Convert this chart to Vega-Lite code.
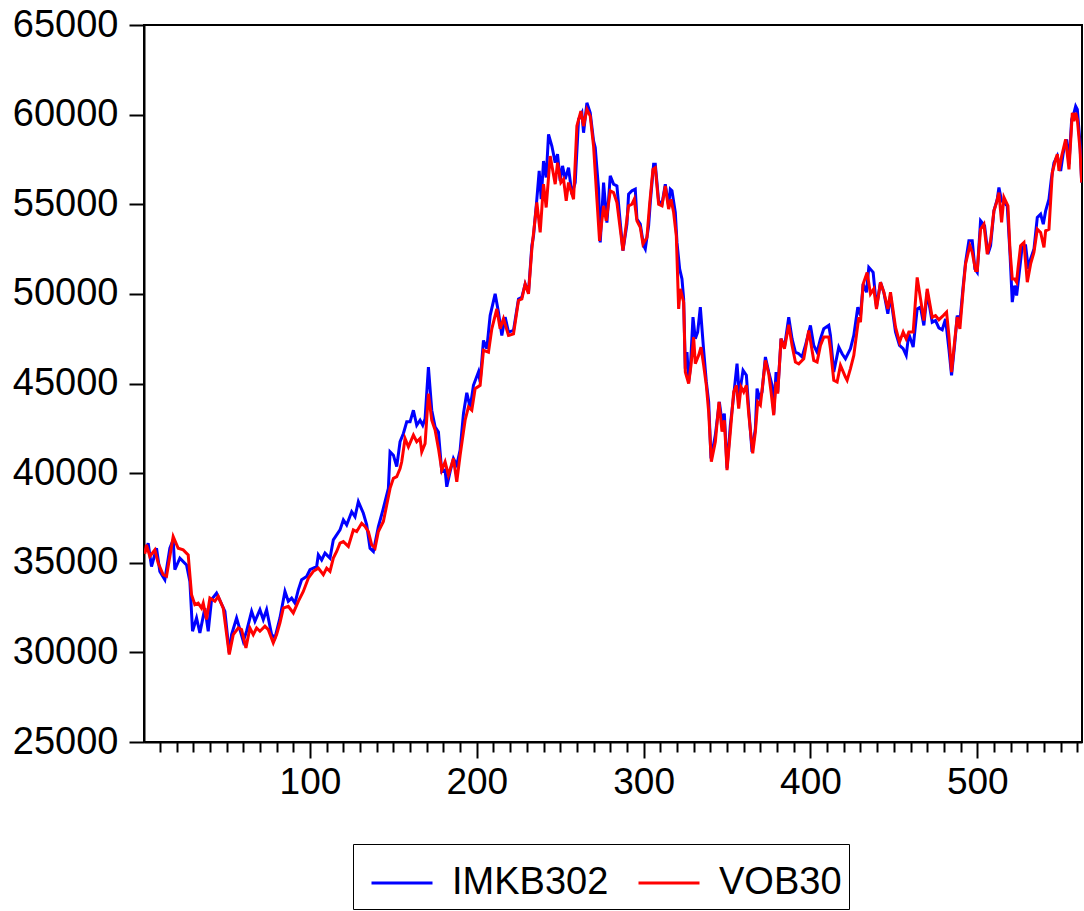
{
  "$schema": "https://vega.github.io/schema/vega-lite/v6.json",
  "width": 938,
  "height": 717,
  "autosize": {"type": "none"},
  "padding": {"left": 144, "top": 25, "right": 2, "bottom": 169},
  "background": "white",
  "config": {
    "view": {"stroke": "black", "strokeWidth": 2},
    "font": "Liberation Sans"
  },
  "datasets": {
    "imkb": [
      {"t":1,"v":35600},{"t":2,"v":35810},{"t":3,"v":36090},{"t":5,"v":34790},{"t":8,"v":35810},{"t":10,"v":34510},{"t":13,"v":34050},{"t":16,"v":35810},{"t":18,"v":36280},{"t":19,"v":34610},{"t":22,"v":35260},{"t":26,"v":34880},{"t":28,"v":33960},{"t":29.6,"v":31180},{"t":32,"v":31920},{"t":34,"v":31080},{"t":37,"v":32470},{"t":39,"v":31180},{"t":41,"v":32940},{"t":44,"v":33310},{"t":49,"v":32290},{"t":51.6,"v":29970},{"t":53,"v":30990},{"t":56,"v":31920},{"t":60,"v":30620},{"t":62,"v":31180},{"t":65,"v":32290},{"t":67,"v":31730},{"t":70,"v":32380},{"t":72,"v":31830},{"t":74,"v":32380},{"t":77,"v":30990},{"t":79,"v":30810},{"t":82,"v":31920},{"t":85,"v":33400},{"t":87,"v":32850},{"t":89,"v":33030},{"t":91,"v":32750},{"t":93,"v":33490},{"t":95,"v":34050},{"t":98,"v":34240},{"t":100,"v":34610},{"t":104,"v":34790},{"t":105,"v":35440},{"t":107,"v":35160},{"t":109,"v":35540},{"t":112,"v":35260},{"t":114,"v":36280},{"t":118,"v":36830},{"t":120,"v":37390},{"t":122,"v":37110},{"t":125,"v":37850},{"t":127,"v":37570},{"t":129,"v":38410},{"t":132,"v":37760},{"t":134,"v":37110},{"t":136,"v":35810},{"t":138,"v":35630},{"t":141,"v":37020},{"t":144,"v":38040},{"t":147,"v":39150},{"t":148,"v":41190},{"t":150,"v":41000},{"t":152,"v":40360},{"t":154,"v":41750},{"t":156,"v":42210},{"t":158,"v":42860},{"t":160,"v":42860},{"t":162,"v":43510},{"t":164,"v":42670},{"t":166,"v":42950},{"t":167.6,"v":42670},{"t":169,"v":43040},{"t":171,"v":45920},{"t":173,"v":43510},{"t":175,"v":42580},{"t":177,"v":42300},{"t":179,"v":40080},{"t":181,"v":40170},{"t":182,"v":39240},{"t":184,"v":40080},{"t":186,"v":40820},{"t":188,"v":40450},{"t":190,"v":41280},{"t":192,"v":43320},{"t":194,"v":44480},{"t":196,"v":43650},{"t":198,"v":44900},{"t":201,"v":45640},{"t":202,"v":45090},{"t":204,"v":47400},{"t":206,"v":46940},{"t":208,"v":48790},{"t":211,"v":50000},{"t":213,"v":48980},{"t":215,"v":47680},{"t":217,"v":48700},{"t":219,"v":47870},{"t":222,"v":47960},{"t":225,"v":49720},{"t":227,"v":49810},{"t":229,"v":50550},{"t":231,"v":50090},{"t":233,"v":52690},{"t":234,"v":53240},{"t":236,"v":55280},{"t":237.4,"v":56860},{"t":238.6,"v":55280},{"t":240,"v":57410},{"t":241.6,"v":56490},{"t":243,"v":58900},{"t":245,"v":58250},{"t":247,"v":57320},{"t":248.4,"v":57790},{"t":250,"v":56300},{"t":251.4,"v":57140},{"t":253,"v":56400},{"t":255,"v":57040},{"t":257,"v":55560},{"t":259,"v":56210},{"t":261,"v":59730},{"t":263,"v":60100},{"t":264,"v":58990},{"t":266,"v":60660},{"t":268,"v":60100},{"t":270,"v":58530},{"t":271,"v":58160},{"t":273,"v":55840},{"t":274,"v":52870},{"t":276,"v":56210},{"t":278,"v":53980},{"t":280,"v":56580},{"t":282,"v":56120},{"t":284,"v":56020},{"t":286,"v":53980},{"t":287.6,"v":52410},{"t":290,"v":53890},{"t":291,"v":55560},{"t":293,"v":55750},{"t":295,"v":55840},{"t":296,"v":54170},{"t":298,"v":53890},{"t":300,"v":52690},{"t":301,"v":52500},{"t":303,"v":53800},{"t":304,"v":55100},{"t":306,"v":57230},{"t":307,"v":57230},{"t":309,"v":55190},{"t":311,"v":55000},{"t":313,"v":56120},{"t":315,"v":54910},{"t":316,"v":55840},{"t":317,"v":55750},{"t":319,"v":54540},{"t":320,"v":52870},{"t":321.6,"v":51390},{"t":323,"v":50830},{"t":324,"v":49720},{"t":325,"v":45830},{"t":326,"v":46750},{"t":327,"v":45090},{"t":328,"v":45830},{"t":329.6,"v":48700},{"t":331,"v":47500},{"t":332.4,"v":47870},{"t":334,"v":49260},{"t":336,"v":46850},{"t":337.6,"v":45090},{"t":339,"v":43970},{"t":340.4,"v":40820},{"t":343,"v":42120},{"t":345.4,"v":43970},{"t":347,"v":42860},{"t":348.4,"v":43320},{"t":350,"v":40270},{"t":352,"v":42680},{"t":354,"v":44340},{"t":356,"v":46110},{"t":357.4,"v":44340},{"t":359.6,"v":45740},{"t":361.6,"v":45460},{"t":363,"v":43600},{"t":365,"v":41190},{"t":367,"v":42490},{"t":368,"v":44720},{"t":369.6,"v":44160},{"t":371,"v":44530},{"t":373,"v":46480},{"t":375,"v":45640},{"t":377,"v":44900},{"t":378,"v":43320},{"t":379.4,"v":45640},{"t":380.4,"v":44530},{"t":382.4,"v":47500},{"t":384.4,"v":47000},{"t":387,"v":48700},{"t":389,"v":47490},{"t":391,"v":46750},{"t":393,"v":46660},{"t":395,"v":46480},{"t":397,"v":47120},{"t":400,"v":48240},{"t":402,"v":47120},{"t":404,"v":46750},{"t":406,"v":47490},{"t":408,"v":48050},{"t":411,"v":48240},{"t":412,"v":47680},{"t":414,"v":45640},{"t":417,"v":47030},{"t":419,"v":46660},{"t":421,"v":46380},{"t":422,"v":46570},{"t":424,"v":46940},{"t":426,"v":47680},{"t":428.4,"v":49260},{"t":430,"v":48790},{"t":431.6,"v":50550},{"t":433.6,"v":50090},{"t":435,"v":51480},{"t":437.6,"v":51200},{"t":439.6,"v":49260},{"t":442,"v":50650},{"t":444,"v":50090},{"t":446.4,"v":48890},{"t":448,"v":49910},{"t":451,"v":47870},{"t":453.4,"v":47120},{"t":455.6,"v":46940},{"t":457.4,"v":46570},{"t":459,"v":47770},{"t":461.6,"v":47030},{"t":464,"v":49160},{"t":466,"v":49260},{"t":468,"v":48240},{"t":470,"v":50090},{"t":473,"v":48420},{"t":475,"v":48510},{"t":477,"v":48100},{"t":479,"v":48000},{"t":481,"v":48600},{"t":483,"v":46940},{"t":484.6,"v":45460},{"t":486.4,"v":47120},{"t":488,"v":48790},{"t":489.6,"v":48420},{"t":491.6,"v":50460},{"t":493,"v":51760},{"t":495,"v":52970},{"t":497,"v":52970},{"t":498.6,"v":51390},{"t":500,"v":51200},{"t":502,"v":54080},{"t":504.4,"v":53800},{"t":506.4,"v":52220},{"t":508,"v":52690},{"t":510,"v":54630},{"t":512,"v":55280},{"t":513,"v":55930},{"t":514.6,"v":55190},{"t":516,"v":55100},{"t":518,"v":54910},{"t":519.6,"v":52320},{"t":521,"v":49540},{"t":522.4,"v":50460},{"t":523.6,"v":49910},{"t":525,"v":51020},{"t":527,"v":52690},{"t":529,"v":52690},{"t":530.6,"v":51390},{"t":532,"v":51950},{"t":534,"v":52500},{"t":536,"v":54260},{"t":538,"v":54450},{"t":539.6,"v":53890},{"t":541,"v":54630},{"t":543,"v":55280},{"t":544.4,"v":56400},{"t":546,"v":57320},{"t":548,"v":57690},{"t":550,"v":56860},{"t":551.6,"v":57880},{"t":553.6,"v":58620},{"t":555,"v":57230},{"t":556.6,"v":59730},{"t":558,"v":60100},{"t":559,"v":60470},{"t":560,"v":60290},{"t":561.6,"v":58430},{"t":562.6,"v":56210}
    ],
    "vob": [
      {"t":1,"v":35500},{"t":2,"v":36000},{"t":4,"v":35350},{"t":7,"v":35720},{"t":9,"v":34980},{"t":12,"v":34330},{"t":14,"v":34240},{"t":18,"v":36460},{"t":21,"v":35810},{"t":24,"v":35720},{"t":27,"v":35440},{"t":29,"v":33220},{"t":31,"v":32660},{"t":33,"v":32750},{"t":35,"v":32470},{"t":36,"v":32750},{"t":38,"v":31830},{"t":40,"v":33030},{"t":43,"v":32850},{"t":45,"v":33120},{"t":48,"v":32470},{"t":51.6,"v":29880},{"t":54,"v":30990},{"t":57,"v":31360},{"t":59,"v":31270},{"t":61.6,"v":30250},{"t":64,"v":31360},{"t":66,"v":30990},{"t":68,"v":31360},{"t":70,"v":31180},{"t":73,"v":31460},{"t":75,"v":31270},{"t":78,"v":30530},{"t":80,"v":30990},{"t":82,"v":31640},{"t":84,"v":32470},{"t":87,"v":32570},{"t":90,"v":32200},{"t":93,"v":32850},{"t":96,"v":33400},{"t":99,"v":34140},{"t":102,"v":34520},{"t":105,"v":34700},{"t":108,"v":34330},{"t":110,"v":34700},{"t":112,"v":34520},{"t":114,"v":35260},{"t":116,"v":35630},{"t":118,"v":36090},{"t":120,"v":36180},{"t":123,"v":35910},{"t":126,"v":36830},{"t":128,"v":36740},{"t":131,"v":37200},{"t":133,"v":37020},{"t":135,"v":36740},{"t":137,"v":36000},{"t":139,"v":35810},{"t":141,"v":36740},{"t":144,"v":37300},{"t":146,"v":38220},{"t":148,"v":39150},{"t":150,"v":39710},{"t":152,"v":39800},{"t":154,"v":40260},{"t":155,"v":40630},{"t":157,"v":41930},{"t":159,"v":41470},{"t":162,"v":42120},{"t":164,"v":41750},{"t":166,"v":41930},{"t":167,"v":41190},{"t":169,"v":41650},{"t":171,"v":44430},{"t":173,"v":42950},{"t":175,"v":42400},{"t":177,"v":41380},{"t":179,"v":40170},{"t":181,"v":40630},{"t":183,"v":39890},{"t":186,"v":40820},{"t":188,"v":39520},{"t":190,"v":41000},{"t":192,"v":42300},{"t":193,"v":42950},{"t":195,"v":43690},{"t":197,"v":43510},{"t":199,"v":44710},{"t":202,"v":44900},{"t":204,"v":46850},{"t":207,"v":46750},{"t":209,"v":48050},{"t":212,"v":49160},{"t":214,"v":48050},{"t":216,"v":48610},{"t":219,"v":47680},{"t":222,"v":47770},{"t":225,"v":49630},{"t":227,"v":49720},{"t":229,"v":50550},{"t":231,"v":50000},{"t":233,"v":52500},{"t":236,"v":55100},{"t":238,"v":53430},{"t":240,"v":56120},{"t":241.6,"v":54820},{"t":244,"v":57690},{"t":247,"v":56120},{"t":248.4,"v":57320},{"t":250.4,"v":56210},{"t":252,"v":56400},{"t":253.6,"v":55190},{"t":255,"v":56210},{"t":258,"v":55280},{"t":260,"v":59360},{"t":262.4,"v":60200},{"t":264,"v":59360},{"t":266,"v":60290},{"t":268,"v":59920},{"t":270,"v":58250},{"t":272,"v":55280},{"t":273.6,"v":52960},{"t":276,"v":54910},{"t":277.6,"v":54080},{"t":280,"v":55750},{"t":282,"v":55650},{"t":284,"v":55100},{"t":286,"v":53610},{"t":287.6,"v":52410},{"t":289,"v":53430},{"t":291,"v":54910},{"t":293,"v":55000},{"t":294.4,"v":55280},{"t":296,"v":54080},{"t":298,"v":53710},{"t":299.6,"v":52780},{"t":302,"v":53150},{"t":303.6,"v":55000},{"t":305.6,"v":56950},{"t":307,"v":57040},{"t":309,"v":55000},{"t":311,"v":54910},{"t":313,"v":56020},{"t":315,"v":54730},{"t":316.4,"v":55280},{"t":318,"v":54540},{"t":319.6,"v":53240},{"t":321,"v":49160},{"t":322,"v":50280},{"t":324,"v":49540},{"t":325,"v":45640},{"t":327,"v":44990},{"t":328.4,"v":46010},{"t":330,"v":47580},{"t":331,"v":46110},{"t":333,"v":46570},{"t":334.4,"v":47030},{"t":336,"v":46010},{"t":337.6,"v":44900},{"t":339,"v":43420},{"t":340.6,"v":40640},{"t":343,"v":41750},{"t":345.2,"v":43970},{"t":347,"v":42310},{"t":348.4,"v":42950},{"t":350,"v":40170},{"t":352,"v":42310},{"t":354,"v":44530},{"t":355.6,"v":44900},{"t":357,"v":43600},{"t":358.4,"v":44810},{"t":360,"v":44530},{"t":361.6,"v":44900},{"t":363,"v":43320},{"t":365.4,"v":41100},{"t":367,"v":42310},{"t":368.4,"v":43970},{"t":370,"v":43790},{"t":373,"v":46290},{"t":375,"v":45550},{"t":376.4,"v":44530},{"t":378,"v":43230},{"t":379.4,"v":45090},{"t":380.4,"v":44440},{"t":382.4,"v":47500},{"t":384.4,"v":46940},{"t":387,"v":48280},{"t":389,"v":47120},{"t":391,"v":46200},{"t":393,"v":46100},{"t":396,"v":46380},{"t":399,"v":47960},{"t":402,"v":46290},{"t":404,"v":46200},{"t":406,"v":47120},{"t":408,"v":47590},{"t":411,"v":47590},{"t":412,"v":46940},{"t":414,"v":45180},{"t":416,"v":45080},{"t":418,"v":46010},{"t":421,"v":45360},{"t":422,"v":45180},{"t":424,"v":45830},{"t":426,"v":46570},{"t":429,"v":48700},{"t":430,"v":48420},{"t":431.6,"v":50550},{"t":434,"v":51200},{"t":436,"v":50000},{"t":438,"v":50280},{"t":439.6,"v":49160},{"t":442,"v":50650},{"t":444,"v":50090},{"t":446.4,"v":49160},{"t":448,"v":50090},{"t":451,"v":48140},{"t":453.4,"v":47310},{"t":455.6,"v":47870},{"t":457.4,"v":47490},{"t":459,"v":47870},{"t":461.6,"v":47870},{"t":464,"v":50920},{"t":466,"v":49720},{"t":468,"v":48510},{"t":470,"v":50280},{"t":473,"v":48700},{"t":475,"v":48790},{"t":477,"v":48560},{"t":479.6,"v":48790},{"t":481.6,"v":48980},{"t":483,"v":47680},{"t":484.6,"v":45640},{"t":486.4,"v":47310},{"t":488,"v":48700},{"t":489.6,"v":48050},{"t":491.6,"v":50280},{"t":493,"v":51670},{"t":495.6,"v":52690},{"t":497,"v":52320},{"t":499,"v":51300},{"t":500,"v":51300},{"t":502,"v":53610},{"t":504,"v":53890},{"t":506,"v":52220},{"t":508,"v":52970},{"t":510,"v":54630},{"t":511.6,"v":55100},{"t":513,"v":55650},{"t":514.6,"v":53990},{"t":516,"v":55380},{"t":518.4,"v":54910},{"t":519.6,"v":52500},{"t":521,"v":50830},{"t":522.4,"v":50830},{"t":523.6,"v":50650},{"t":524.4,"v":51390},{"t":526,"v":52690},{"t":528,"v":52870},{"t":530,"v":50650},{"t":532,"v":51670},{"t":534,"v":52320},{"t":536,"v":53610},{"t":538,"v":53430},{"t":540,"v":52590},{"t":541,"v":53520},{"t":543,"v":53610},{"t":545,"v":56770},{"t":547,"v":57510},{"t":548,"v":57790},{"t":549,"v":56860},{"t":550.6,"v":57690},{"t":553,"v":58620},{"t":555,"v":56950},{"t":557,"v":60100},{"t":558,"v":59640},{"t":559,"v":60100},{"t":560,"v":59730},{"t":561.6,"v":58060},{"t":562.6,"v":56210}
    ]
  },
  "encoding": {
    "x": {
      "field": "t",
      "type": "quantitative",
      "scale": {"domain": [0.5, 562.8], "nice": false, "zero": false},
      "axis": {
        "title": null,
        "grid": false,
        "values": [10,20,30,40,50,60,70,80,90,100,110,120,130,140,150,160,170,180,190,200,210,220,230,240,250,260,270,280,290,300,310,320,330,340,350,360,370,380,390,400,410,420,430,440,450,460,470,480,490,500,510,520,530,540,550,560],
        "labelExpr": "datum.value % 100 === 0 ? datum.label : ''",
        "tickSize": {"condition": {"test": "datum.value % 100 === 0", "value": 16}, "value": 10},
        "tickWidth": 2,
        "tickColor": "black",
        "domainColor": "black",
        "domainWidth": 2,
        "labelFont": "Liberation Sans",
        "labelFontSize": 37,
        "labelColor": "black",
        "labelPadding": 6,
        "labelFlush": false,
        "labelOverlap": false
      }
    },
    "y": {
      "field": "v",
      "type": "quantitative",
      "scale": {"domain": [25000, 65000], "nice": false, "zero": false},
      "axis": {
        "title": null,
        "grid": false,
        "values": [25000,30000,35000,40000,45000,50000,55000,60000,65000],
        "format": "d",
        "tickSize": 15,
        "tickWidth": 2,
        "tickColor": "black",
        "domainColor": "black",
        "domainWidth": 2,
        "labelFont": "Liberation Sans",
        "labelFontSize": 38,
        "labelColor": "black",
        "labelPadding": 11,
        "labelFlush": false,
        "labelOverlap": false
      }
    },
    "color": {
      "scale": {"domain": ["IMKB302", "VOB30"], "range": ["#0000FF", "#FF0000"]},
      "legend": {
        "title": null,
        "orient": "none",
        "legendX": 209,
        "legendY": 819,
        "direction": "horizontal",
        "strokeColor": "black",
        "fillColor": "white",
        "padding": 7,
        "symbolType": "stroke",
        "symbolSize": 3721,
        "symbolStrokeWidth": 3,
        "symbolOffset": 10,
        "labelFont": "Liberation Sans",
        "labelFontSize": 38,
        "labelColor": "black",
        "labelOffset": 18,
        "columnPadding": 18
      }
    }
  },
  "layer": [
    {
      "data": {"name": "imkb"},
      "mark": {"type": "line", "strokeWidth": 3, "clip": true},
      "encoding": {"color": {"datum": "IMKB302"}}
    },
    {
      "data": {"name": "vob"},
      "mark": {"type": "line", "strokeWidth": 3, "clip": true},
      "encoding": {"color": {"datum": "VOB30"}}
    }
  ]
}
